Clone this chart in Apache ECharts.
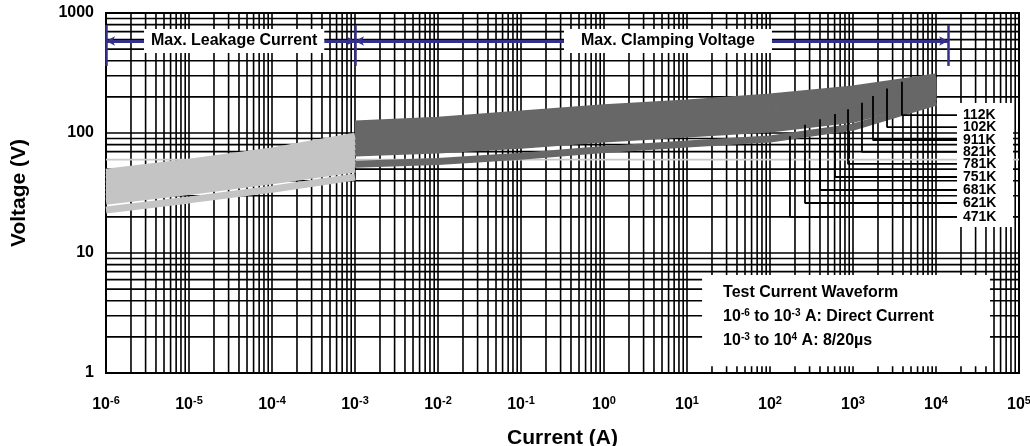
<!DOCTYPE html>
<html>
<head>
<meta charset="utf-8">
<script src="https://cdn.jsdelivr.net/npm/echarts@6/dist/echarts.min.js"></script>
<style>
  html, body { margin: 0; padding: 0; background: #fff; }
  #chart { width: 1030px; height: 446px; }
</style>
</head>
<body>
<div id="chart"></div>
<script>
// Varistor V-I characteristics: max. leakage (DC) and max. clamping (8/20µs)

const parts = ['471K', '621K', '681K', '751K', '781K', '821K', '911K', '102K', '112K'];

// Max. leakage current region, volts per part at each current
const leakageCurrents = [1e-6, 1e-5, 1e-4, 1e-3];
const leakageVolts = [
  [22.8, 27.7, 34, 43],
  [27, 32.5, 40, 50],
  [29.5, 35.5, 43.5, 55],
  [32, 38.5, 47, 59],
  [34.5, 41.5, 51, 64],
  [37.5, 45, 55, 70],
  [41, 49, 60, 77],
  [44, 53, 65, 85],
  [47, 57, 71, 94]
];

// Max. clamping voltage region, volts per part at each current
const clampCurrents = [1e-3, 1e-2, 1e-1, 1, 10, 100, 1000, 1e4];
const clampVolts = [
  [55, 58, 64, 73, 81, 89, 112, 181],
  [68, 72, 79, 89, 98, 108, 130, 200],
  [74, 78, 86, 96, 106, 116, 140, 212],
  [80, 85, 93, 104, 114, 125, 150, 225],
  [85, 90, 98, 110, 121, 133, 160, 236],
  [92, 97, 106, 118, 130, 143, 172, 250],
  [100, 106, 116, 129, 142, 157, 187, 265],
  [109, 116, 129, 145, 159, 178, 208, 280],
  [119, 128, 144, 162, 178, 200, 233, 293]
];

// Label leaders: drop from the curve, then run right to the part name
const leaderCurrents = [174, 264, 400, 607, 871, 1283, 1742, 2570, 3890];
const leaderStartVolts = [94, 117, 130, 144, 158, 179, 203, 235, 267];
const labelRowVolts = [20, 26.1, 33.5, 43, 55.2, 69.5, 87.4, 112, 141];
const leaderEndCurrent = 17900;

// Range brackets across the top
const bracketVolt = 584;
const bracketLow = 362;
const bracketHigh = 794;
const leakageSpan = [1e-6, 1e-3];
const clampSpan = [1e-3, 1.4e4];
const spanTitles = ['Max. Leakage Current', 'Max. Clamping Voltage'];
const spanTitleCurrents = [3.5e-5, 5.9];

// Boxes laid over the grid
const partBox = { current: [17900, 84700], volt: [16.5, 178] };
const waveBox = { current: [15.2, 44700], volt: [1.14, 6.56] };

// Axis ranges (decades)
const xDecades = [-6, 5];
const yDecades = [0, 3];

const FONT = '"Liberation Sans", Arial, Helvetica, sans-serif';
const BLUE = '#33308a';

// Log grid: every mantissa 1..9 of each decade
const xGrid = [];
for (let d = xDecades[0]; d < xDecades[1]; d++) {
  for (let m = 1; m <= 9; m++) xGrid.push(m * Math.pow(10, d));
}
xGrid.push(Math.pow(10, xDecades[1]));
const yGrid = [];
for (let d = yDecades[0]; d < yDecades[1]; d++) {
  for (let m = 1; m <= 9; m++) yGrid.push(m * Math.pow(10, d));
}
yGrid.push(Math.pow(10, yDecades[1]));

const zip = (xs, ys) => xs.map((x, i) => [x, ys[i]]);

// Grid lines drawn through the axis scales
function gridLineSeries(name, values, vertical) {
  return {
    name: name, type: 'custom', silent: true, z: 1, clip: false,
    data: values.map(v => vertical ? [v, 1] : [1, v]),
    renderItem: (params, api) => {
      const cs = params.coordSys;
      const p = api.coord([api.value(0), api.value(1)]);
      const v = vertical ? api.value(0) : api.value(1);
      const gray = !vertical && Math.abs(v - 60) < 1e-6;
      return {
        type: 'line',
        shape: vertical
          ? { x1: p[0], y1: cs.y, x2: p[0], y2: cs.y + cs.height }
          : { x1: cs.x, y1: p[1], x2: cs.x + cs.width, y2: p[1] },
        style: { stroke: gray ? '#c8c8c8' : '#000', lineWidth: 1.6 }
      };
    }
  };
}

const curveSeries = [];
parts.forEach((p, i) => {
  curveSeries.push({
    name: p + ' leakage', type: 'line', silent: true, z: 3,
    symbol: 'none', data: zip(leakageCurrents, leakageVolts[i]),
    lineStyle: { color: '#c4c4c4', width: 7, cap: 'butt' }
  });
  curveSeries.push({
    name: p + ' clamping', type: 'line', silent: true, z: 3,
    symbol: 'none', data: zip(clampCurrents, clampVolts[i]),
    lineStyle: { color: '#676767', width: 7, cap: 'butt' }
  });
});

const leaderSeries = parts.map((p, i) => ({
  name: p, type: 'line', silent: true, z: 4, symbol: 'none',
  data: [
    [leaderCurrents[i], leaderStartVolts[i]],
    [leaderCurrents[i], labelRowVolts[i]],
    [leaderEndCurrent, labelRowVolts[i]]
  ],
  lineStyle: { color: '#000', width: 1.8 },
  endLabel: {
    show: true, formatter: '{a}', distance: 6,
    fontFamily: FONT, fontWeight: 'bold', fontSize: 14, color: '#000'
  }
}));

const supRich = {
  b: { fontFamily: FONT, fontWeight: 'bold', fontSize: 16, color: '#000', lineHeight: 20 },
  s: { fontFamily: FONT, fontWeight: 'bold', fontSize: 11, color: '#000', lineHeight: 20, verticalAlign: 'top' }
};

const option = {
  animation: false,
  grid: {
    left: 106, right: 11, top: 13, bottom: 73,
    outerBoundsMode: 'none', containLabel: false,
    show: true, backgroundColor: '#fff', borderColor: '#000', borderWidth: 2
  },
  xAxis: {
    type: 'log', logBase: 10,
    min: Math.pow(10, xDecades[0]), max: Math.pow(10, xDecades[1]),
    interval: 1, splitNumber: 11,
    name: 'Current (A)', nameLocation: 'middle', nameGap: 55,
    nameTextStyle: { fontFamily: FONT, fontWeight: 'bold', fontSize: 21, color: '#000' },
    axisLine: { show: false }, axisTick: { show: false }, splitLine: { show: false },
    axisLabel: {
      margin: 22, showMinLabel: true, showMaxLabel: true,
      formatter: v => '{b|10}{s|' + Math.round(Math.log10(v)) + '}',
      rich: supRich
    }
  },
  yAxis: {
    type: 'log', logBase: 10,
    min: Math.pow(10, yDecades[0]), max: Math.pow(10, yDecades[1]),
    name: 'Voltage (V)', nameLocation: 'middle', nameGap: 76, nameRotate: 90,
    nameTextStyle: { fontFamily: FONT, fontWeight: 'bold', fontSize: 21, color: '#000' },
    axisLine: { show: false }, axisTick: { show: false }, splitLine: { show: false },
    axisLabel: {
      margin: 12, showMinLabel: true, showMaxLabel: true,
      fontFamily: FONT, fontWeight: 'bold', fontSize: 16, color: '#000',
      formatter: v => String(Math.round(v))
    }
  },
  series: [
    gridLineSeries('vertical grid', xGrid, true),
    gridLineSeries('horizontal grid', yGrid, false),
    {
      name: 'boxes', type: 'line', data: [], silent: true, z: 2,
      markArea: {
        z: 2, silent: true,
        itemStyle: { color: '#fff' },
        emphasis: { disabled: true },
        data: [
          [
            { coord: [partBox.current[0], partBox.volt[1]] },
            { coord: [partBox.current[1], partBox.volt[0]] }
          ],
          [
            {
              coord: [waveBox.current[0], waveBox.volt[1]],
              label: {
                show: true, position: 'insideTopLeft', distance: 5,
                padding: [1, 0, 0, 16],
                formatter: [
                  '{t|Test Current Waveform}',
                  '{t|10}{s|-6}{t| to 10}{s|-3}{t| A: Direct Current}',
                  '{t|10}{s|-3}{t| to 10}{s|4}{t| A: 8/20µs}'
                ].join('\n'),
                rich: {
                  t: { fontFamily: FONT, fontWeight: 'bold', fontSize: 16, color: '#000', lineHeight: 24 },
                  s: { fontFamily: FONT, fontWeight: 'bold', fontSize: 10, color: '#000', lineHeight: 24, verticalAlign: 'top', padding: [3, 0, 0, 0] }
                }
              }
            },
            { coord: [waveBox.current[1], waveBox.volt[0]] }
          ]
        ]
      }
    },
    ...curveSeries,
    ...leaderSeries,
    {
      name: 'brackets', type: 'line', data: [], silent: true, z: 5,
      markLine: {
        z: 5, silent: true, symbol: 'none', label: { show: false },
        lineStyle: { color: BLUE, width: 2.5, type: 'solid' },
        emphasis: { disabled: true },
        data: [leakageSpan[0], leakageSpan[1], clampSpan[1]].map(c => [
          { coord: [c, bracketLow] }, { coord: [c, bracketHigh] }
        ])
      }
    },
    {
      name: 'spans', type: 'line', data: [], silent: true, z: 5,
      markLine: {
        z: 5, silent: true, symbol: ['arrow', 'arrow'], symbolSize: [7, 9],
        label: { show: false },
        lineStyle: { color: BLUE, width: 3, type: 'solid' },
        emphasis: { disabled: true },
        data: [leakageSpan, clampSpan].map(s => [
          { coord: [s[0], bracketVolt] }, { coord: [s[1], bracketVolt] }
        ])
      }
    },
    {
      name: 'span titles', type: 'scatter', silent: true, z: 6,
      symbolSize: 1, itemStyle: { color: 'rgba(255,255,255,0)', opacity: 1 },
      label: {
        show: true, position: 'inside', formatter: p => p.data.title,
        fontFamily: FONT, fontWeight: 'bold', fontSize: 16, color: '#000',
        backgroundColor: '#fff', opacity: 1
      },
      data: spanTitles.map((t, i) => ({
        value: [spanTitleCurrents[i], bracketVolt], title: t,
        label: { padding: i === 0 ? [4, 7] : [4, 17] }
      }))
    }
  ]
};

const chart = echarts.init(document.getElementById('chart'), null, { renderer: 'canvas' });
chart.setOption(option);
</script>
</body>
</html>
